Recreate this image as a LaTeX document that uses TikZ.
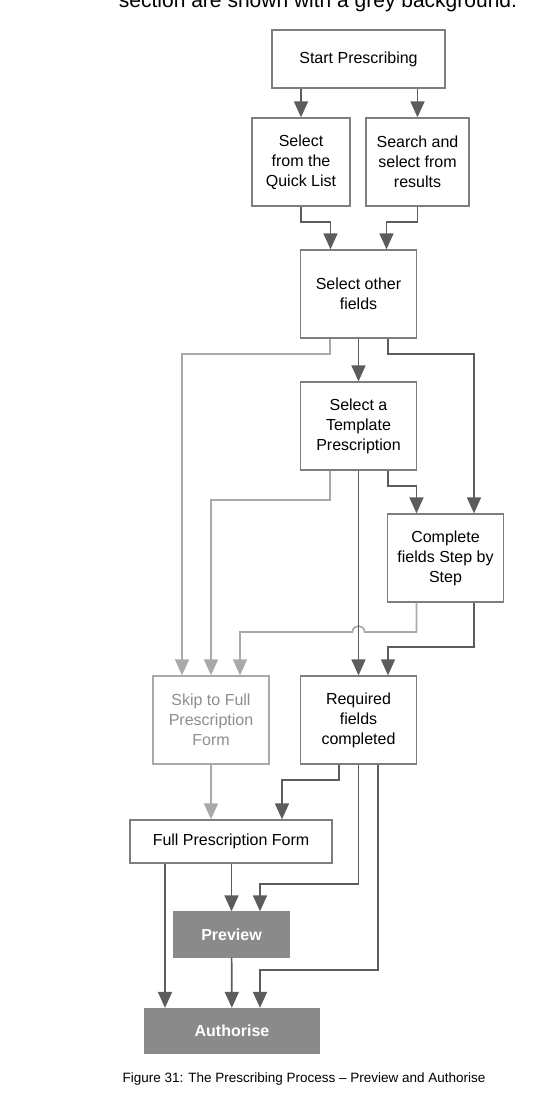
\documentclass[tikz,border=0pt]{standalone}
\usepackage{fontspec}
\setmainfont{Liberation Sans}
\usetikzlibrary{arrows.meta, calc}
\definecolor{cLine}{HTML}{5C5C5C}
\definecolor{cBox}{HTML}{7E7E7E}
\definecolor{cSkip}{HTML}{A9A9A9}
\definecolor{cSkipT}{HTML}{8E8E8E}
\definecolor{cFill}{HTML}{8A8A8A}

\begin{document}
\begin{tikzpicture}[
  x=1pt, y=-1pt,
  font=\fontsize{16}{20}\selectfont,
  box/.style={draw=cBox, line width=1.3pt, align=center, inner sep=0pt, fill=white,
              minimum width=116pt, minimum height=88pt},
  skipbox/.style={box, draw=cSkip, text=cSkipT},
  fbox/.style={box, draw=cFill, fill=cFill, text=white, font=\fontsize{16}{20}\selectfont\bfseries,
               minimum height=45pt},
  arr/.style={-{Triangle[length=16pt, width=14pt]}, line width=1.7pt, draw=cLine},
  larr/.style={arr, draw=cSkip}
]
\useasboundingbox (0,0) rectangle (533,1111);
\clip (0,0) rectangle (533,1111);

% cut-off text line above the figure
\node[anchor=base, font=\fontsize{21}{25}\selectfont] (note) at (318,7) {section are shown with a grey background.};

% BOXES
\node[box, minimum width=173pt, minimum height=58pt] (start) at (358.5,59) {Start Prescribing};
\node[box, minimum width=98pt] (quick) at (301,162) {Select\\ from the\\ Quick List};
\node[box, minimum width=103pt] (search) at (417.5,162) {Search and\\ select from\\ results};
\node[box] (other) at (358.5,294) {Select other\\ fields};
\node[box] (tmpl) at (358.5,426) {Select a\\ Template\\ Prescription};
\node[box] (stepw) at (445.5,558) {Complete\\ fields Step by\\ Step};
\node[skipbox] (skip) at (211,720) {Skip to Full\\ Prescription\\ Form};
\node[box] (req) at (358.5,720) {Required\\ fields\\ completed};
\node[box, minimum width=202pt, minimum height=43pt] (full) at (231,841.5) {Full Prescription Form};
\node[fbox] (prev) at (231.5,934.5) {Preview};
\node[fbox, minimum width=174pt] (auth) at (232,1031) {Authorise};

% caption
\node[anchor=base, font=\fontsize{13.5}{16}\selectfont] (cap) at (304,1082) {Figure 31: The Prescribing Process -- Preview and Authorise};

% TOP
\draw[arr] (quick.north |- start.south) -- (quick.north);
\draw[arr] (search.north |- start.south) -- (search.north);
\draw[arr] (quick.south) -- ++(0,15) -| ([xshift=-28pt]other.north);
\draw[arr] (search.south) -- ++(0,15) -| ([xshift=28pt]other.north);

% SKIP ROUTES (light)
\coordinate (hop) at (358.5,632);
\draw[larr] ([xshift=-28.5pt]other.south) -- ++(0,15) -| ([xshift=-29pt]skip.north);
\draw[larr] ([xshift=-28.5pt]tmpl.south) -- ++(0,29) -| (skip.north);
\draw[larr] ([xshift=-29pt]stepw.south) |- ([xshift=6pt]hop)
  .. controls +(0,-8) and +(0,-8) .. ([xshift=-6pt]hop) -| ([xshift=29pt]skip.north);
\draw[larr] (skip.south) -- (skip.south |- full.north);

% MIDDLE
\draw[arr] (other) -- (tmpl);
\draw[arr] ([xshift=29.5pt]other.south) -- ++(0,15) -| ([xshift=28.5pt]stepw.north);
\draw[arr] (tmpl) -- (req);
\draw[arr] ([xshift=29.5pt]tmpl.south) -- ++(0,15) -| ([xshift=-29pt]stepw.north);
\draw[arr] ([xshift=28.5pt]stepw.south) -- ++(0,44) -| ([xshift=29.5pt]req.north);

% BOTTOM
\coordinate (fl) at ([xshift=-66pt]full.south);
\draw[arr] ([xshift=-19.5pt]req.south) -- ++(0,15) -| ([xshift=51pt]full.north);
\draw[arr] (req.south) -- ++(0,119) -| ([xshift=28.5pt]prev.north);
\draw[arr] ([xshift=19.5pt]req.south) -- ++(0,205) -| ([xshift=28pt]auth.north);
\draw[arr] (prev.north |- full.south) -- (prev.north);
\draw[arr] (fl) -- (fl |- auth.north);
\draw[arr] (prev) -- (auth);

\end{tikzpicture}
\end{document}
